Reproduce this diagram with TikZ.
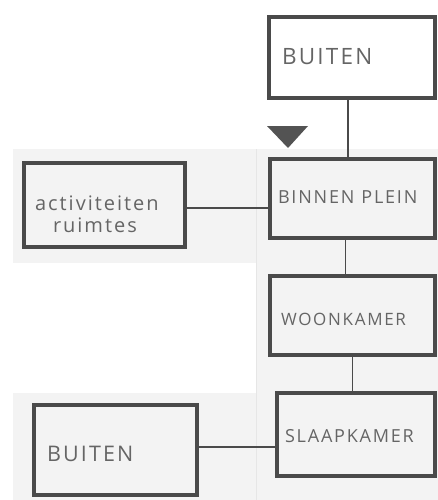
\documentclass[tikz,border=0pt]{standalone}
\usepackage{fontspec}
\newfontfamily\hand[LetterSpace=10]{Open Sans}
\newcommand\sz[1]{\fontsize{#1}{#1}\selectfont}
\definecolor{ink}{HTML}{4A4A4A}
\definecolor{paper}{HTML}{F3F3F3}
\definecolor{seam}{HTML}{E6E6E6}
\usetikzlibrary{positioning}

\begin{document}
\begin{tikzpicture}[x=1pt,y=-1pt,
  font=\hand, text=ink!85,
  b/.style={draw=ink,line width=4.5pt,align=left,inner xsep=13pt,inner ysep=0pt,text depth=0pt},
  l/.style={draw=ink,line width=1.4pt}]
\useasboundingbox (0,0) rectangle (438,500);
% paper panels
\fill[paper] (13,149) rectangle (438,263);
\fill[paper] (256,263) rectangle (438,393);
\fill[paper] (13,393) rectangle (438,500);
\draw[seam,line width=0.8pt] (256,149) -- (256,500);
% rooms
\node[b,text width=140pt,minimum height=81pt,text height=15pt] (buiten) at (352,57.5) {\sz{22.5}BUITEN};
\node[b,text width=149pt,minimum height=79pt,text height=9pt,inner xsep=8pt] (plein) at (352.5,198.5) {\sz{18}BINNEN\hspace{7pt}PLEIN};
\node[b,text width=139pt,minimum height=84pt,text height=10pt,inner xsep=11pt] (activ) at (104.5,205) {\sz{20}activiteiten\\[7pt]\hspace{18pt}ruimtes};
\node[b,text width=143pt,minimum height=79pt,text height=19pt,inner xsep=11pt] (woon) at (352.5,315.5) {\sz{17}WOONKAMER};
\node[b,text width=142pt,minimum height=83pt,text height=15pt,inner xsep=8pt] (slaap) at (356,434.5) {\sz{18}SLAAPKAMER};
\node[b,text width=137pt,minimum height=90pt,text height=22pt] (buiten2) at (115.5,450) {\sz{21.5}BUITEN};
% entrance
\fill[ink!95] (267,126) -- (308,126) -- (288,148) -- cycle;
% links
\draw[l] ([xshift=-4pt]buiten.south) -- ([xshift=-4pt]buiten.south |- plein.north);
\draw[l] ([xshift=-7pt]plein.south) -- ([xshift=-7pt]plein.south |- woon.north);
\draw[l] (woon.south) -- (woon.south |- slaap.north);
\draw[l] ([yshift=-3pt]activ.east) -- ([yshift=-3pt]activ.east -| plein.west);
\draw[l] ([yshift=3pt]buiten2.east) -- ([yshift=3pt]buiten2.east -| slaap.west);
\end{tikzpicture}
\end{document}
